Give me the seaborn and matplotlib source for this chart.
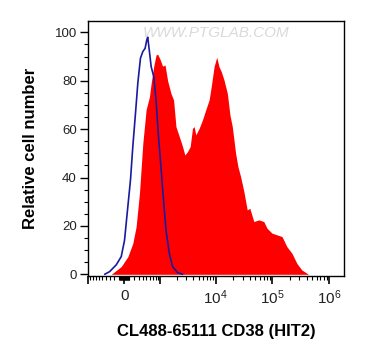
import numpy as np
import matplotlib
matplotlib.use("Agg")
import matplotlib.pyplot as plt
import seaborn as sns

# CD38 stained sample (red, filled) - fluorescence vs relative count
cd38_x = [-267, -59, 72, 173, 244, 320, 402, 491, 589, 644, 732, 817, 881, 994,
          1101, 1227, 1373, 1581, 1770, 1955, 2241, 2571, 2828, 3157, 3521, 3870,
          4147, 4433, 5078, 5810, 6654, 7615, 8371, 9327, 10389, 11412, 12537,
          13968, 15990, 17800, 19575, 22400, 24600, 27400, 31330, 35900, 39900,
          46950, 57470, 70300, 80450, 98400, 120400, 147300, 180200, 220500,
          269700, 330000, 432900]
cd38_y = [0, 3.2, 7.3, 12.8, 19.7, 33.5, 54, 68, 73.4, 79, 86, 90.6, 91, 88.6,
          86, 86.5, 80, 74.8, 72, 61, 57, 52.8, 49.3, 50.7, 52.8, 60.3,
          61, 57.6, 60.3, 63.8, 68, 72, 78, 85.8, 89.7, 85.8, 83.7,
          80.3, 74.8, 65.8, 61, 50, 44.5, 40.4, 34.2, 26.6, 27.3,
          21.8, 22.5, 21.8, 19, 17, 16.3, 15.6, 11.4, 8.7,
          4.5, 1.8, 0]

# isotype control (blue line)
ctrl_x = [-427, -305, -160, -59, 6, 72, 125, 173, 230, 282, 344, 402, 463, 509,
          537, 589, 644, 732, 817, 908, 1024, 1148, 1280, 1475, 1697, 2092, 2571]
ctrl_y = [0, 1.1, 3.9, 7.3, 14, 28, 39, 52.8, 66.5, 79, 89.3, 92, 93.4, 96.8,
          98, 92, 85.8, 81.7, 72, 58, 44.5, 30.7, 18.3, 8.7, 3.2, 0.7, 0]

C = 485.0

def fwd(x):
    return np.arcsinh(np.asarray(x, dtype=float) / C)

def inv(y):
    return C * np.sinh(np.asarray(y, dtype=float))

sns.set_style("ticks")
plt.rcParams["font.family"] = ["Liberation Sans", "DejaVu Sans"]
plt.rcParams["mathtext.fontset"] = "custom"
plt.rcParams["mathtext.rm"] = "Liberation Sans"
plt.rcParams["mathtext.it"] = "Liberation Sans"
plt.rcParams["text.color"] = "black"
plt.rcParams["axes.labelcolor"] = "black"
plt.rcParams["xtick.color"] = "black"
plt.rcParams["ytick.color"] = "black"

fig = plt.figure(figsize=(3.65, 3.6), dpi=100)
ax = fig.add_axes([88 / 365, 1 - 276 / 360, 256 / 365, 255.3 / 360])

ax.fill_between(cd38_x, 0, cd38_y, color="#ff0000", lw=0)
sns.lineplot(x=ctrl_x, y=ctrl_y, ax=ax, color="#1a1a9e", lw=1.2, sort=False)

ax.set_xscale("function", functions=(fwd, inv))
ax.set_xlim(-940, 1.83e6)
ax.set_ylim(-0.7, 104.8)

major = [-1000, 0, 1000, 1e4, 1e5, 1e6]
ax.set_xticks(major)
ax.set_xticklabels(["", "0", "", "$10^{4}$", "$10^{5}$", "$10^{6}$"], fontsize=11)
minor = []
for k in [10, 100]:
    for m in range(1, 10):
        minor += [m * k, -m * k]
for k in [1000, 1e4, 1e5]:
    for m in range(2, 10):
        minor.append(m * k)
ax.set_xticks(minor, minor=True)

ax.set_yticks([0, 20, 40, 60, 80, 100])
ax.set_yticks(np.arange(0, 105, 5), minor=True)
ax.tick_params(axis="y", labelsize=9.5, length=6, width=1, direction="out", pad=2,
               labelcolor="#222222")
ax.tick_params(axis="x", length=6, width=1.2, direction="out", pad=3,
               labelcolor="#222222")
ax.tick_params(which="minor", length=3, width=0.8)

for s in ax.spines.values():
    s.set_linewidth(1)
    s.set_color("black")

ax.set_xlabel("CL488-65111 CD38 (HIT2)", fontsize=12, fontweight="bold", labelpad=12)
ax.set_ylabel("Relative cell number", fontsize=12, fontweight="bold", labelpad=12)

ax.text(0.502, 0.952, "WWW.PTGLAB.COM", transform=ax.transAxes, ha="center",
        va="center", fontsize=11, color="#dadada", style="italic")

fig.savefig("out.png", dpi=100)
plt.close(fig)
